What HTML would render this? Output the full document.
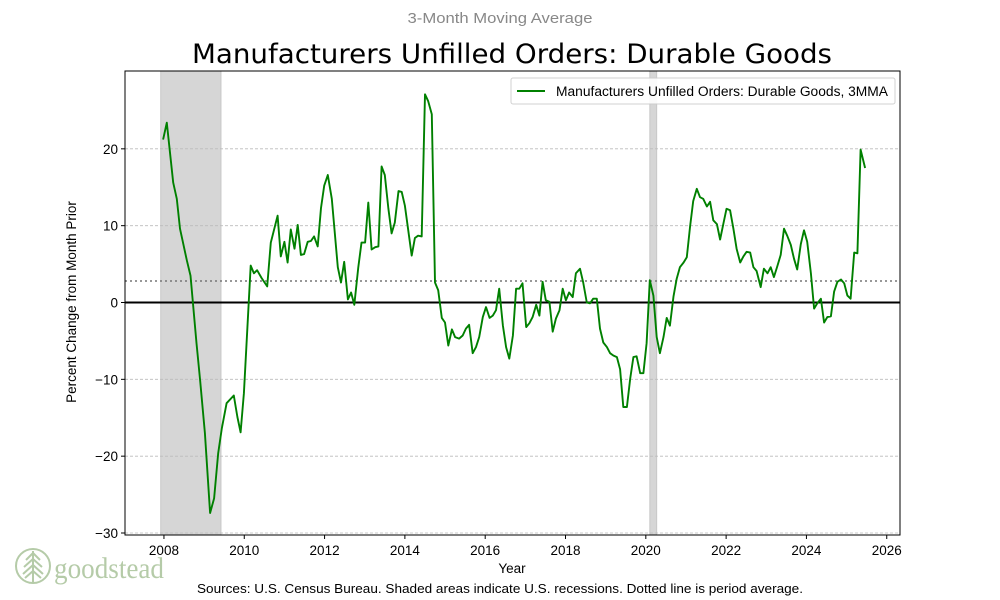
<!DOCTYPE html>
<html><head><meta charset="utf-8"><style>
html,body{margin:0;padding:0;background:#fff}
svg{display:block}
text{font-family:"Liberation Sans","DejaVu Sans",sans-serif}
</style></head><body>
<svg id="chart" width="1000" height="600" viewBox="0 0 1000 600">
<text x="500" y="23" text-anchor="middle" font-size="15" fill="#888" textLength="185" lengthAdjust="spacingAndGlyphs">3-Month Moving Average</text>
<text x="512" y="63" text-anchor="middle" font-size="27" fill="#000" textLength="640" lengthAdjust="spacingAndGlyphs" style="font-family:'DejaVu Sans',sans-serif">Manufacturers Unfilled Orders: Durable Goods</text>
<g id="plot"></g>
<text transform="translate(76,302) rotate(-90)" text-anchor="middle" font-size="13.5" fill="#000">Percent Change from Month Prior</text>
<text x="512" y="573" text-anchor="middle" font-size="13.5" fill="#000">Year</text>
<text x="500" y="593" text-anchor="middle" font-size="12.5" fill="#000" textLength="606" lengthAdjust="spacingAndGlyphs">Sources: U.S. Census Bureau. Shaded areas indicate U.S. recessions. Dotted line is period average.</text>
<g fill="none" stroke="#b5cba8" stroke-width="2">
<circle cx="33" cy="566" r="17"/>
<line x1="33" y1="551" x2="33" y2="583"/>
<path d="M33 553 L26 560 M33 553 L40 560 M33 559 L24 567 M33 559 L42 567 M33 565 L23 574 M33 565 L43 574 M33 571 L25 578 M33 571 L41 578"/>
<text x="54" y="578" font-size="30" fill="#b5cba8" stroke="none" textLength="110" lengthAdjust="spacingAndGlyphs" style="font-family:'Liberation Serif',serif">goodstead</text>
</g>
</svg>
<script>
const dates=[2007.98,2008.07,2008.23,2008.32,2008.40,2008.57,2008.66,2008.81,2008.90,2009.02,2009.15,2009.25,2009.35,2009.44,2009.56,2009.74,2009.83,2009.91,2009.99,2010.16,2010.24,2010.32,2010.43,2010.57,2010.66,2010.83,2010.91,2011.00,2011.08,2011.16,2011.25,2011.33,2011.41,2011.49,2011.58,2011.66,2011.74,2011.83,2011.91,2011.99,2012.08,2012.18,2012.33,2012.41,2012.49,2012.58,2012.66,2012.74,2012.84,2012.92,2013.01,2013.09,2013.17,2013.26,2013.34,2013.42,2013.50,2013.59,2013.67,2013.75,2013.84,2013.92,2014.00,2014.17,2014.25,2014.33,2014.42,2014.50,2014.58,2014.67,2014.75,2014.83,2014.92,2015.00,2015.08,2015.17,2015.25,2015.35,2015.44,2015.52,2015.60,2015.69,2015.77,2015.85,2015.94,2016.02,2016.11,2016.19,2016.27,2016.35,2016.44,2016.52,2016.60,2016.69,2016.77,2016.85,2016.93,2017.02,2017.10,2017.18,2017.27,2017.35,2017.43,2017.51,2017.60,2017.68,2017.76,2017.85,2017.93,2018.01,2018.09,2018.18,2018.26,2018.36,2018.44,2018.53,2018.61,2018.69,2018.78,2018.86,2018.94,2019.03,2019.11,2019.19,2019.28,2019.36,2019.44,2019.53,2019.61,2019.69,2019.77,2019.86,2019.94,2020.02,2020.10,2020.19,2020.27,2020.35,2020.44,2020.52,2020.60,2020.69,2020.77,2020.85,2020.94,2021.02,2021.10,2021.18,2021.27,2021.35,2021.43,2021.52,2021.60,2021.68,2021.77,2021.85,2021.93,2022.01,2022.10,2022.18,2022.26,2022.35,2022.43,2022.51,2022.60,2022.68,2022.76,2022.86,2022.94,2023.03,2023.11,2023.19,2023.28,2023.36,2023.44,2023.52,2023.61,2023.69,2023.77,2023.86,2023.94,2024.02,2024.11,2024.19,2024.27,2024.36,2024.44,2024.52,2024.61,2024.69,2024.77,2024.86,2024.94,2025.02,2025.10,2025.19,2025.27,2025.35,2025.46];
const values=[21.2,23.4,15.6,13.5,9.6,5.5,3.5,-5.3,-10.1,-17,-27.4,-25.5,-19.6,-16.4,-13.1,-12.1,-14.9,-16.9,-11.8,4.8,3.8,4.2,3.2,2.1,7.8,11.3,6.0,7.9,5.2,9.5,7.0,10.1,6.2,6.3,7.9,8.0,8.6,7.3,12.3,15.2,16.6,13.5,4.6,2.6,5.3,0.4,1.3,-0.3,4.6,7.8,7.8,13.0,6.9,7.2,7.3,17.7,16.6,12.2,9.0,10.4,14.5,14.4,12.6,6.1,8.4,8.7,8.6,27.1,26.2,24.5,2.6,1.6,-2.0,-2.6,-5.6,-3.5,-4.5,-4.7,-4.3,-3.4,-2.9,-6.6,-5.8,-4.5,-1.9,-0.6,-2.0,-1.7,-1.0,1.8,-3.0,-5.8,-7.3,-4.3,1.8,1.8,2.5,-3.2,-2.7,-1.9,-0.3,-1.7,2.7,0.3,0.1,-3.8,-2.1,-1.0,1.8,0.3,1.3,0.7,3.8,4.4,2.6,0,-0.1,0.5,0.5,-3.4,-5.2,-5.8,-6.6,-6.9,-7.1,-8.7,-13.6,-13.6,-9.9,-7.1,-7.0,-9.2,-9.2,-5.3,2.9,0.9,-4.5,-6.6,-4.5,-2.0,-3.0,0.8,3.1,4.6,5.2,5.9,9.8,13.2,14.8,13.7,13.5,12.5,13.1,10.7,10.2,8.2,10.2,12.2,12.0,9.6,7.0,5.2,6.0,6.6,6.5,4.6,4.1,2.0,4.4,3.8,4.6,3.3,4.8,6.2,9.6,8.7,7.5,5.7,4.3,7.6,9.4,7.9,3.8,-0.8,-0.1,0.5,-2.6,-1.9,-1.8,1.4,2.7,3.0,2.5,0.9,0.5,6.5,6.4,19.9,17.5];
const xTicks=[2008,2010,2012,2014,2016,2018,2020,2022,2024,2026];
const yTicks=[-30,-20,-10,0,10,20];
const recessions=[[2007.92,2009.42],[2020.10,2020.27]];
const average=[2.8];
const seriesName=["Manufacturers Unfilled Orders: Durable Goods, 3MMA"];

const L=125,R=900,T=71,B=535;
const X0=2007.03,X1=2026.33,Y0=-30.26,Y1=30.13;
const sx=v=>L+(v-X0)/(X1-X0)*(R-L);
const sy=v=>B-(v-Y0)/(Y1-Y0)*(B-T);
const NS="http://www.w3.org/2000/svg";
const plot=document.getElementById('plot');
function mk(tag,attrs,parent){const e=document.createElementNS(NS,tag);for(const k in attrs)e.setAttribute(k,attrs[k]);(parent||plot).appendChild(e);return e;}

recessions.forEach(r=>{
  const e=mk('rect',{x:sx(r[0]),y:T,width:sx(r[1])-sx(r[0]),height:B-T,fill:'#d6d6d6',stroke:'#c8c8c8','stroke-width':1});
  
  
});
yTicks.forEach(v=>{
  if(v!==0){const g=mk('line',{x1:L,x2:R,y1:sy(v),y2:sy(v),stroke:'#bbb','stroke-width':0.8,'stroke-dasharray':'3,2'});
  
  }
  const t=mk('line',{x1:L-4,x2:L,y1:sy(v),y2:sy(v),stroke:'#000','stroke-width':1});
  
  
  const lb=mk('text',{x:L-7,y:sy(v)+5,'text-anchor':'end','font-size':13.5,fill:'#000'});
  lb.textContent=(v<0?'\u2212':'')+Math.abs(v);
  
  
});
xTicks.forEach(v=>{
  const t=mk('line',{x1:sx(v),x2:sx(v),y1:B,y2:B+4,stroke:'#000','stroke-width':1});
  
  
  const lb=mk('text',{x:sx(v),y:B+20,'text-anchor':'middle','font-size':13.5,fill:'#000'});
  lb.textContent=v;
  
  
});
const avg=mk('line',{x1:L,x2:R,y1:sy(average[0]),y2:sy(average[0]),stroke:'#777','stroke-width':1.5,'stroke-dasharray':'2,3'});


const zero=mk('line',{x1:L,x2:R,y1:sy(0),y2:sy(0),stroke:'#000','stroke-width':2});


const pts=dates.map((d,i)=>sx(d).toFixed(1)+','+sy(values[i]).toFixed(1)).join(' ');
const line=mk('polyline',{points:pts,fill:'none',stroke:'#008000','stroke-width':1.9,'stroke-linejoin':'round'});


const frame=mk('rect',{x:L,y:T,width:R-L,height:B-T,fill:'none',stroke:'#000','stroke-width':1});


const lg=mk('g',{});


mk('rect',{x:511,y:78,width:384,height:26,rx:2,fill:'#fff',stroke:'#ccc','stroke-width':1,opacity:0.9},lg);
const ll=mk('line',{x1:517,x2:545,y1:91,y2:91,stroke:'#008000','stroke-width':1.9},lg);


const lt=mk('text',{x:556,y:96,'font-size':13.5,fill:'#000',textLength:332,lengthAdjust:'spacingAndGlyphs'},lg);
lt.textContent=seriesName[0];


</script>
</body></html>
